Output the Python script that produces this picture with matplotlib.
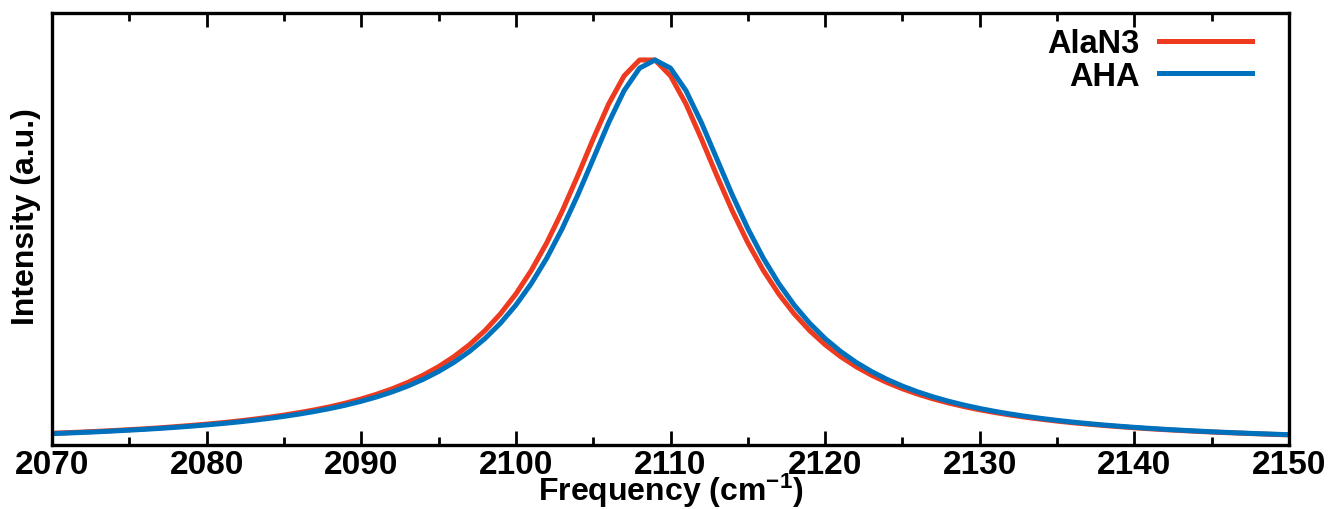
import matplotlib
matplotlib.use('Agg')
import matplotlib.pyplot as plt
from matplotlib.ticker import MultipleLocator

# frequency grid (cm^-1), 1 cm^-1 steps
freq = list(range(2070, 2151))

# AlaN3 spectrum (peak near 2108.5)
alan3 = [0.0305, 0.0320, 0.0337, 0.0356, 0.0376, 0.0398, 0.0421, 0.0447, 0.0477, 0.0508,
         0.0542, 0.0579, 0.0621, 0.0668, 0.0719, 0.0777, 0.0842, 0.0914, 0.0996, 0.1090,
         0.1196, 0.1319, 0.1460, 0.1623, 0.1813, 0.2035, 0.2296, 0.2605, 0.2971, 0.3406,
         0.3923, 0.4536, 0.5253, 0.6078, 0.6992, 0.7949, 0.8857, 0.9587, 1.0000, 1.0000,
         0.9587, 0.8857, 0.7949, 0.6992, 0.6078, 0.5253, 0.4536, 0.3923, 0.3406, 0.2971,
         0.2605, 0.2296, 0.2035, 0.1813, 0.1623, 0.1460, 0.1319, 0.1196, 0.1090, 0.0996,
         0.0914, 0.0842, 0.0777, 0.0719, 0.0668, 0.0621, 0.0579, 0.0542, 0.0508, 0.0477,
         0.0447, 0.0421, 0.0398, 0.0376, 0.0356, 0.0337, 0.0320, 0.0305, 0.0290, 0.0275,
         0.0262]

# AHA spectrum (peak near 2109)
aha = [0.0295, 0.0310, 0.0327, 0.0344, 0.0364, 0.0385, 0.0407, 0.0432, 0.0459, 0.0489,
       0.0521, 0.0557, 0.0596, 0.0640, 0.0689, 0.0743, 0.0804, 0.0872, 0.0949, 0.1036,
       0.1135, 0.1249, 0.1379, 0.1530, 0.1705, 0.1909, 0.2148, 0.2431, 0.2765, 0.3162,
       0.3634, 0.4195, 0.4855, 0.5623, 0.6491, 0.7429, 0.8371, 0.9204, 0.9788, 1.0000,
       0.9788, 0.9204, 0.8371, 0.7429, 0.6491, 0.5623, 0.4855, 0.4195, 0.3634, 0.3162,
       0.2765, 0.2431, 0.2148, 0.1909, 0.1705, 0.1530, 0.1379, 0.1249, 0.1135, 0.1036,
       0.0949, 0.0872, 0.0804, 0.0743, 0.0689, 0.0640, 0.0596, 0.0557, 0.0521, 0.0489,
       0.0459, 0.0432, 0.0407, 0.0385, 0.0364, 0.0344, 0.0327, 0.0310, 0.0295, 0.0281,
       0.0268]

plt.rcParams['font.family'] = ['Liberation Sans', 'DejaVu Sans']
plt.rcParams['font.weight'] = 'bold'
plt.rcParams['mathtext.fontset'] = 'custom'
plt.rcParams['mathtext.rm'] = 'Liberation Sans:bold'
plt.rcParams['mathtext.it'] = 'Liberation Sans:bold'
plt.rcParams['mathtext.bf'] = 'Liberation Sans:bold'

fig = plt.figure(figsize=(13.34, 5.10), dpi=100)
ax = fig.add_axes([52 / 1334, 1 - 446 / 510, (1289 - 52) / 1334, (446 - 14) / 510])

ax.plot(freq, alan3, color='#EE3A1E', linewidth=3.6, label='AlaN3')
ax.plot(freq, aha, color='#0072BD', linewidth=3.6, label='AHA')

ax.set_xlim(2070, 2150)
ax.set_ylim(0, 1.122)
ax.xaxis.set_major_locator(MultipleLocator(10))
ax.xaxis.set_minor_locator(MultipleLocator(5))
ax.set_yticks([])
ax.tick_params(axis='x', which='both', direction='in', top=True, width=2, labelsize=24, pad=3)
ax.tick_params(axis='x', which='major', length=10)
ax.tick_params(axis='x', which='minor', length=6)
for s in ax.spines.values():
    s.set_linewidth(2.4)

ax.set_xlabel('Frequency (cm$^{-1}$)', fontsize=23, fontweight='bold', labelpad=-7)
ax.set_ylabel('Intensity (a.u.)', fontsize=23, fontweight='bold')
ax.yaxis.set_label_coords(-0.009, 0.532)

ax.legend(loc='upper right', bbox_to_anchor=(1252 / 1334, 1 - 29 / 510),
          bbox_transform=fig.transFigure, frameon=False, markerfirst=False,
          fontsize=23.5, handlelength=2.85, handletextpad=0.6, labelspacing=0.05,
          borderpad=0, borderaxespad=0)

fig.savefig('out.png', dpi=100)
